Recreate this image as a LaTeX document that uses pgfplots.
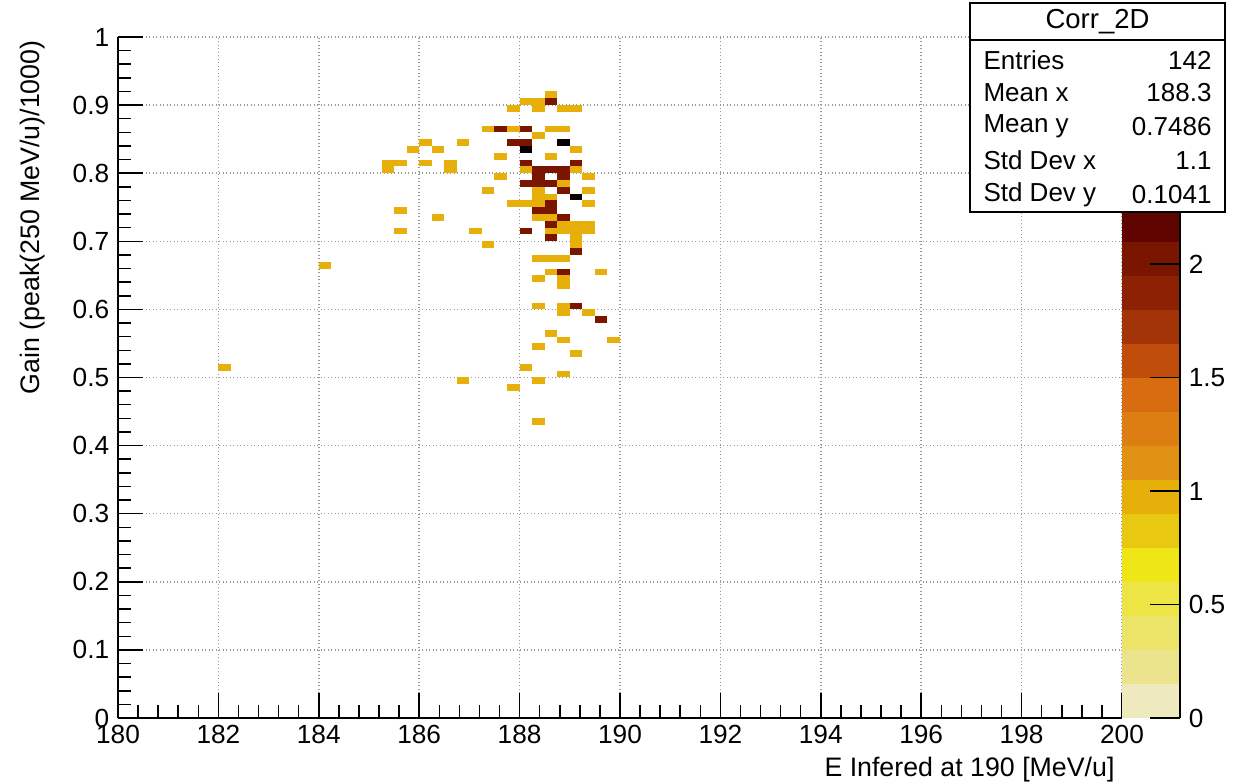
\documentclass[border=0pt]{standalone}
\usepackage{fontspec}
\setmainfont{Liberation Sans}
\usepackage{pgfplots}
\pgfplotsset{compat=1.18}
\usepackage{pgfplotstable}

% one histogram bin: 0.25 (x) by 0.01 (y), anchored at its lower-left corner
\pgfdeclareplotmark{cell}{\pgfpathrectangle{\pgfpointorigin}{\pgfpoint{5.02pt}{2.724pt}}\pgfusepathqfill}

\pgfplotstableread{
x y z
188.5 0.91 1
188.0 0.90 1
188.25 0.90 1
188.5 0.90 2
187.75 0.89 1
188.25 0.89 1
188.75 0.89 1
189.0 0.89 1
187.25 0.86 1
187.5 0.86 2
187.75 0.86 1
188.0 0.86 2
188.5 0.86 1
188.75 0.86 1
188.25 0.85 1
186.0 0.84 1
186.75 0.84 1
187.75 0.84 2
188.0 0.84 2
188.75 0.84 3
185.75 0.83 1
186.25 0.83 1
188.0 0.83 3
189.0 0.83 1
187.5 0.82 1
188.5 0.82 1
185.25 0.81 1
185.5 0.81 1
186.0 0.81 1
186.5 0.81 1
188.0 0.81 2
189.0 0.81 2
185.25 0.80 1
186.5 0.80 1
188.0 0.80 1
188.25 0.80 2
188.5 0.80 2
188.75 0.80 2
189.0 0.80 1
187.5 0.79 1
188.25 0.79 2
188.75 0.79 2
189.25 0.79 1
188.0 0.78 2
188.25 0.78 2
188.5 0.78 2
188.75 0.78 1
187.25 0.77 1
188.25 0.77 1
188.75 0.77 2
189.25 0.77 1
188.25 0.76 1
188.5 0.76 1
189.0 0.76 3
187.75 0.75 1
188.0 0.75 1
188.25 0.75 1
188.5 0.75 2
189.25 0.75 1
185.5 0.74 1
188.25 0.74 2
188.5 0.74 2
186.25 0.73 1
188.25 0.73 1
188.5 0.73 1
188.75 0.73 2
188.5 0.72 2
188.75 0.72 1
189.0 0.72 1
189.25 0.72 1
185.5 0.71 1
187.0 0.71 1
188.0 0.71 2
188.5 0.71 1
188.75 0.71 1
189.0 0.71 1
189.25 0.71 1
188.5 0.70 2
189.0 0.70 1
187.25 0.69 1
189.0 0.69 1
189.0 0.68 2
188.25 0.67 1
188.5 0.67 1
188.75 0.67 1
184.0 0.66 1
188.5 0.65 1
188.75 0.65 2
189.5 0.65 1
188.25 0.64 1
188.75 0.64 1
188.75 0.63 1
188.25 0.60 1
188.75 0.60 1
189.0 0.60 2
188.75 0.59 1
189.25 0.59 1
189.5 0.58 2
188.5 0.56 1
188.75 0.55 1
189.75 0.55 1
188.25 0.54 1
189.0 0.53 1
182.0 0.51 1
188.0 0.51 1
188.75 0.50 1
186.75 0.49 1
188.25 0.49 1
187.75 0.48 1
188.25 0.43 1
}\cells

\begin{document}
\begin{tikzpicture}
\begin{axis}[
  at={(0,0)}, anchor=south west,
  scale only axis,
  width=401.6pt, height=272.4pt,
  xmin=180, xmax=200, ymin=0, ymax=1,
  enlargelimits=false,
  axis x line*=bottom, axis y line*=left,
  axis line style={line width=0.6pt, black},
  xtick={180,182,...,200},
  ytick={0,0.1,...,1.0},
  minor x tick num=4, minor y tick num=4,
  tick align=inside,
  major tick length=10pt, minor tick length=5pt,
  tick style={line width=0.6pt, black},
  grid=major,
  grid style={densely dotted, gray!80, line width=0.6pt},
  /pgf/number format/assume math mode=true,
  tick label style={font=\fontsize{10.5}{12}\selectfont},
  xticklabel style={yshift=-1.5pt, inner ysep=1pt},
  yticklabel style={inner ysep=0.5pt},
  label style={font=\fontsize{10.7}{12}\selectfont},
  xlabel={E Infered at 190 [MeV/u]},
  ylabel={Gain (peak(250 MeV/u)/1000)},
  xlabel style={at={(axis description cs:0.993,-0.0573)}, anchor=north east, inner sep=0pt},
  ylabel style={at={(axis description cs:-0.0847,0.9956)}, anchor=east, inner sep=0pt},
  colormap={rootpal}{
    rgb255=(238,234,190) rgb255=(235,228,140) rgb255=(236,228,104)
    rgb255=(237,229,70)  rgb255=(238,230,22)  rgb255=(233,200,18)
    rgb255=(230,175,10)  rgb255=(225,146,20)  rgb255=(221,126,18)
    rgb255=(215,108,16)  rgb255=(192,78,10)   rgb255=(162,52,8)
    rgb255=(140,34,3)    rgb255=(122,21,0)    rgb255=(96,4,0)
    rgb255=(76,0,0)      rgb255=(56,0,0)      rgb255=(38,0,0)
    rgb255=(20,0,0)      rgb255=(6,0,0)
  },
  colormap access=piecewise constant,
  point meta min=0, point meta max=3,
  colorbar,
  colorbar style={
    at={(1,0)}, anchor=south west, xshift=2pt,
    scale only axis,
    width=23.2pt, height=272.4pt,
    axis x line=none, axis y line*=right,
    axis line style={line width=0.6pt, black},
    ytick={0,0.5,1,1.5,2},
    yticklabel pos=right,
    ytick align=inside,
    major tick length=12pt,
    tick style={line width=0.6pt, black},
    /pgf/number format/assume math mode=true,
    tick label style={font=\fontsize{10.5}{12}\selectfont},
    grid=none,
  },
]
\addplot[scatter, only marks, mark=cell, point meta=explicit,
  scatter/use mapped color={draw=mapped color, fill=mapped color}]
  table[x=x, y=y, meta=z] {\cells};
\end{axis}
% statistics box
\draw[fill=white, line width=0.6pt] (340.8pt,202.4pt) rectangle (442.8pt,286pt);
\draw[line width=0.6pt] (340.8pt,271.2pt) -- (442.8pt,271.2pt);
\node[font=\fontsize{11}{12}\selectfont] at (391.8pt,278.6pt) {Corr\_2D};
\begin{scope}[every node/.style={font=\fontsize{10.4}{12}\selectfont, inner sep=0pt}]
\node[anchor=west] at (346pt,263.2pt) {Entries};
\node[anchor=east] at (437.6pt,263.2pt) {142};
\node[anchor=west] at (346pt,250.0pt) {Mean x};
\node[anchor=east] at (437.6pt,250.0pt) {188.3};
\node[anchor=west] at (346pt,236.6pt) {Mean y};
\node[anchor=east] at (437.6pt,236.6pt) {0.7486};
\node[anchor=west] at (346pt,223.0pt) {Std Dev x};
\node[anchor=east] at (437.6pt,223.0pt) {1.1};
\node[anchor=west] at (346pt,209.4pt) {Std Dev y};
\node[anchor=east] at (437.6pt,209.4pt) {0.1041};
\end{scope}
\pgfresetboundingbox
\path[use as bounding box] (-47.2pt,-25.6pt) rectangle (451.6pt,287.2pt);
\end{tikzpicture}
\end{document}
